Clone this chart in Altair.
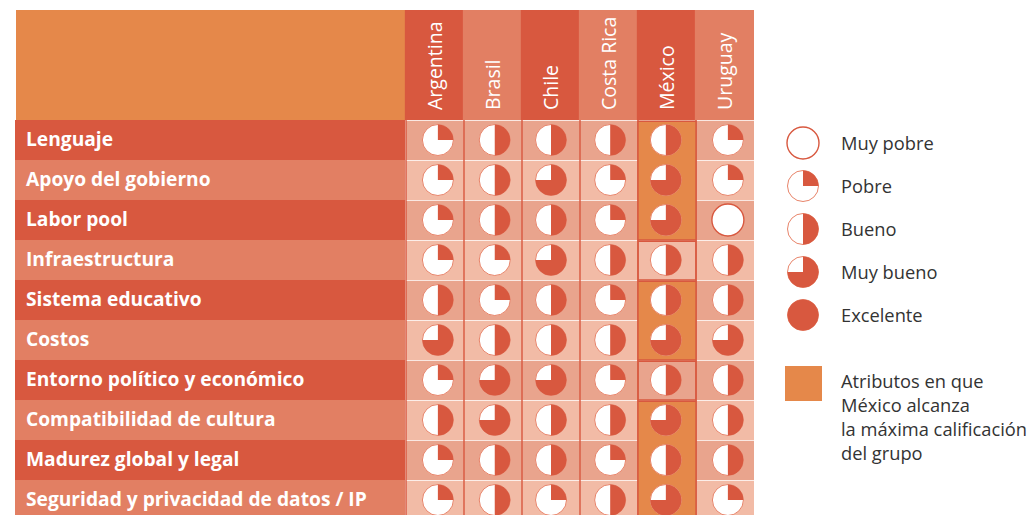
import math
import altair as alt
import pandas as pd

paises = ["Argentina", "Brasil", "Chile", "Costa Rica", "México", "Uruguay"]
atributos = ["Lenguaje", "Apoyo del gobierno", "Labor pool", "Infraestructura", "Sistema educativo",
             "Costos", "Entorno político y económico", "Compatibilidad de cultura",
             "Madurez global y legal", "Seguridad y privacidad de datos / IP"]
# cuartos rellenos por fila (0 = Muy pobre ... 4 = Excelente)
argentina = [1, 1, 1, 1, 2, 3, 1, 2, 1, 1]
brasil = [2, 2, 2, 1, 1, 2, 3, 3, 2, 2]
chile = [2, 3, 2, 3, 2, 2, 3, 2, 2, 1]
costa_rica = [2, 1, 1, 2, 1, 2, 1, 2, 1, 2]
mexico = [2, 3, 3, 2, 2, 3, 2, 3, 2, 3]
uruguay = [1, 1, 0, 2, 2, 3, 2, 2, 2, 1]
notas = [argentina, brasil, chile, costa_rica, mexico, uruguay]
resaltado = [True, True, True, False, True, True, False, True, True, True]
leyenda = ["Muy pobre", "Pobre", "Bueno", "Muy bueno", "Excelente"]
leyenda_cuartos = [0, 1, 2, 3, 4]
nota_lineas = ["Atributos en que", "México alcanza", "la máxima calificación", "del grupo"]

ROJO, SALMON, NARANJA = "#d8583f", "#e27f63", "#e5884a"
CELDA_A, CELDA_B = "#e9a48d", "#f2bba6"
W, H = 1019, 507
CX, CY = 58.0, 40.0        # px per column / row
X0, Y0 = 398.0, 112.0      # plot px of first cell corner
def ux(px):  # page px -> column units
    return (px - 8 - X0) / CX
def uy(px):  # page px -> row units
    return (px - 8 - Y0) / CY

xs = alt.Scale(domain=[-X0 / CX, (W - X0) / CX], nice=False, zero=False)
ys = alt.Scale(domain=[(H - Y0) / CY, -Y0 / CY], nice=False, zero=False)
X = lambda f: alt.X(f, type="quantitative", scale=xs, axis=None)
Y = lambda f: alt.Y(f, type="quantitative", scale=ys, axis=None)

# rectangles
rects = []
rects.append(dict(a=ux(16), b=ux(405), c=uy(10), d=uy(120), col=NARANJA))
for i, p in enumerate(paises):
    rects.append(dict(a=i - 0.02, b=i + 1, c=uy(10), d=uy(120), col=ROJO if i % 2 == 0 else SALMON))
for j, _ in enumerate(atributos):
    rects.append(dict(a=ux(15), b=ux(405), c=j, d=j + 1, col=ROJO if j % 2 == 0 else SALMON))
    rects.append(dict(a=0.0, b=6, c=j + 0.02, d=j + 1, col=CELDA_A if j % 2 == 0 else CELDA_B))
capa_rect = alt.Chart(pd.DataFrame(rects)).mark_rect().encode(
    x=X("a"), x2="b", y=Y("c"), y2="d", color=alt.Color("col:N", scale=None))

# rejilla vertical
reglas = pd.DataFrame([dict(x=float(i), y=0.0, y2=H) for i in range(0, 6)])
capa_regla = alt.Chart(reglas).mark_rule(color=ROJO, strokeWidth=1.4).encode(
    x=X("x"), y=Y("y"), y2=alt.Y2("y2"))

# bloques de México
bloques, ini = [], 0
for j in range(1, len(resaltado) + 1):
    if j == len(resaltado) or resaltado[j] != resaltado[ini]:
        bloques.append(dict(a=4.0, b=5.0, c=ini + 0.03, d=j + (0.6 if j == len(resaltado) else 0.0),
                            col=NARANJA if resaltado[ini] else "transparent"))
        ini = j
capa_bloque = alt.Chart(pd.DataFrame(bloques)).mark_rect(stroke=ROJO, strokeWidth=1.4).encode(
    x=X("a"), x2="b", y=Y("c"), y2="d", color=alt.Color("col:N", scale=None))

# círculos
OFF = [0.05, 0.03, 0.0, 0.02, -0.02, 0.05]
pies = []
for i, col in enumerate(notas):
    for j, q in enumerate(col):
        pies.append(dict(x=i + 0.5 + OFF[i], y=j + 0.5, q=q, R=15.5))
for k, q in enumerate(leyenda_cuartos):
    pies.append(dict(x=ux(803), y=uy(143 + k * 43), q=q, R=15.5))
pdf = pd.DataFrame(pies)
pdf["t0"] = 0.0
pdf["t2pi"] = 2 * math.pi
pdf["t"] = pdf["q"] * math.pi / 2

base = alt.Chart(pdf[pdf.q == 0]).mark_arc(radius=16, fill="white", stroke=ROJO, strokeWidth=1.4).encode(
    x=X("x"), y=Y("y"), theta=alt.Theta("t0:Q", scale=None), theta2=alt.Theta2("t2pi"))
base2 = alt.Chart(pdf[pdf.q > 0]).mark_arc(radius=15.5, fill="white", stroke="#e8846a", strokeWidth=1).encode(
    x=X("x"), y=Y("y"), theta=alt.Theta("t0:Q", scale=None), theta2=alt.Theta2("t2pi"))
cuna = alt.Chart(pdf[pdf.q > 0]).mark_arc(radius=15.5, fill=ROJO).encode(
    x=X("x"), y=Y("y"), theta=alt.Theta("t0:Q", scale=None), theta2=alt.Theta2("t"))

FONT = "Open Sans"
filas = pd.DataFrame({"y": [j + 0.5 for j in range(len(atributos))], "x": ux(26), "t": atributos})
t_filas = alt.Chart(filas).mark_text(font=FONT, fontSize=19.2, fontWeight=700, color="white", align="left",
                                     baseline="middle").encode(x=X("x"), y=Y("y"), text="t:N")
cabecera = pd.DataFrame({"x": [i + 0.5 + 0.02 for i in range(6)], "y": uy(110), "t": paises})
t_cab = alt.Chart(cabecera).mark_text(font=FONT, fontSize=19.5, fontWeight=400, color="white", angle=270,
                                      align="left", baseline="middle").encode(x=X("x"), y=Y("y"), text="t:N")
ley = pd.DataFrame({"x": ux(841), "y": [uy(145 + k * 43) for k in range(5)], "t": leyenda})
nota = pd.DataFrame({"x": ux(841), "y": [uy(383 + k * 24) for k in range(4)], "t": nota_lineas})
t_ley = alt.Chart(pd.concat([ley, nota])).mark_text(font=FONT, fontSize=18.3, color="#333333", align="left",
                                                    baseline="middle").encode(x=X("x"), y=Y("y"), text="t:N")
cuadro = pd.DataFrame([dict(a=ux(785), b=ux(822), c=uy(366), d=uy(401))])
capa_cuadro = alt.Chart(cuadro).mark_rect(color=NARANJA).encode(x=X("a"), x2="b", y=Y("c"), y2="d")

chart = alt.layer(capa_rect, capa_regla, capa_bloque, base, base2, cuna, t_filas, t_cab, t_ley, capa_cuadro).properties(
    width=W, height=H, padding=0, autosize=alt.AutoSizeParams(type="none")
).configure_view(stroke=None)
chart.save("out.html", embed_options={"renderer": "svg", "actions": False})
